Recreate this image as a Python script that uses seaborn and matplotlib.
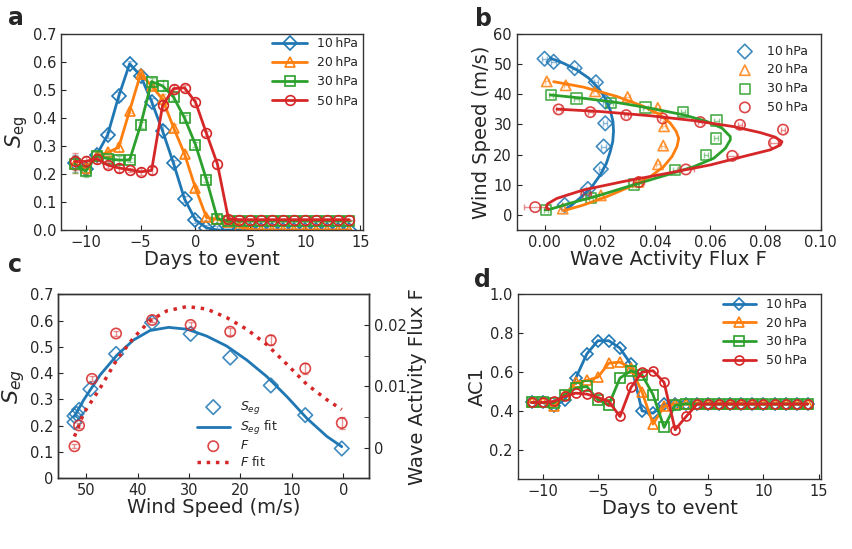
import numpy as np
import pandas as pd
import matplotlib
matplotlib.use("Agg")
import matplotlib.pyplot as plt
import seaborn as sns
from matplotlib.ticker import FixedLocator, FuncFormatter

# ---- data ----
levels = ["10\u2009hPa", "20\u2009hPa", "30\u2009hPa", "50\u2009hPa"]
colors = ["#1f77b4", "#ff7f0e", "#2ca02c", "#d62728"]
marks = ["D", "^", "s", "o"]

days = list(range(-11, 15))

# panel a : S_eg vs days
seg_10 = [0.238, 0.217, 0.268, 0.340, 0.477, 0.594, 0.551, 0.459, 0.354, 0.238, 0.111, 0.036, 0.008,
          0.0, 0.0, 0.0, 0.0, 0.0, 0.0, 0.0, 0.0, 0.0, 0.0, 0.0, 0.0, 0.0]
seg_20 = [0.235, 0.220, 0.265, 0.277, 0.295, 0.426, 0.558, 0.515, 0.467, 0.366, 0.272, 0.149, 0.045,
          0.038, 0.030, 0.012, 0.002, 0.0, 0.0, 0.0, 0.0, 0.0, 0.0, 0.0, 0.0, 0.0]
seg_30 = [0.235, 0.210, 0.265, 0.255, 0.250, 0.250, 0.375, 0.530, 0.515, 0.475, 0.400, 0.305, 0.180,
          0.040, 0.033, 0.032, 0.032, 0.032, 0.032, 0.032, 0.032, 0.032, 0.032, 0.032, 0.032, 0.032]
seg_50 = [0.245, 0.245, 0.255, 0.232, 0.222, 0.215, 0.208, 0.213, 0.445, 0.505, 0.508, 0.457, 0.345,
          0.235, 0.040, 0.037, 0.037, 0.037, 0.037, 0.037, 0.037, 0.037, 0.037, 0.037, 0.037, 0.037]
seg_err = [0.03, 0.02, 0.015, 0.01, 0.015, 0.008, 0.012, 0.012, 0.02, 0.012, 0.01, 0.01, 0.01,
           0.015, 0.005, 0.003, 0.0, 0.0, 0.0, 0.0, 0.0, 0.0, 0.0, 0.0, 0.0, 0.0]
seg_all = [seg_10, seg_20, seg_30, seg_50]

# panel b : wind speed vs wave activity flux
b_flux_10 = [0.000, 0.0033, 0.0109, 0.0186, 0.022, 0.022, 0.0214, 0.0204, 0.0157, 0.0073]
b_wind_10 = [51.8, 50.8, 48.7, 44.0, 37.6, 30.4, 22.7, 15.2, 8.6, 3.3]
b_flux_20 = [0.0008, 0.0077, 0.0183, 0.0301, 0.041, 0.0433, 0.043, 0.0411, 0.034, 0.0204, 0.0066]
b_wind_20 = [44.3, 43.0, 41.0, 39.1, 35.5, 29.4, 23.0, 16.8, 11.0, 6.5, 2.1]
b_flux_30 = [0.0023, 0.0116, 0.024, 0.0366, 0.0502, 0.0623, 0.0622, 0.0584, 0.0472, 0.0325, 0.0169, 0.0005]
b_wind_30 = [39.7, 38.6, 37.2, 35.6, 34.1, 31.3, 25.4, 19.8, 14.9, 10.1, 5.7, 1.7]
b_flux_50 = [0.0051, 0.0166, 0.0296, 0.0428, 0.0564, 0.0708, 0.0864, 0.0831, 0.068, 0.0512, 0.0342,
             0.0151, -0.0034]
b_wind_50 = [35.0, 34.1, 33.1, 32.0, 30.8, 29.9, 28.3, 23.9, 19.6, 15.1, 10.9, 6.8, 2.6]
b_xerr_50 = [0.0008, 0.0008, 0.0008, 0.0008, 0.0008, 0.0008, 0.0008, 0.0015, 0.002, 0.003, 0.002, 0.001, 0.004]
b_flux = [b_flux_10, b_flux_20, b_flux_30, b_flux_50]
b_wind = [b_wind_10, b_wind_20, b_wind_30, b_wind_50]

# fitted curves
fit_flux_10 = [0.0021, 0.0069, 0.0117, 0.016, 0.0196, 0.022, 0.0238, 0.0248, 0.025, 0.0247, 0.0238,
               0.0224, 0.0202, 0.0172, 0.0135, 0.0099, 0.0081]
fit_wind_10 = [52.0, 50.3, 48.1, 45.4, 42.0, 38.7, 34.8, 31.0, 27.7, 24.3, 21.0, 17.1, 13.3, 9.4, 6.1, 3.3, 2.2]
fit_flux_20 = [0.0033, 0.0141, 0.0262, 0.0359, 0.0419, 0.0456, 0.0477, 0.0486, 0.048, 0.0462, 0.0431,
               0.0383, 0.0311, 0.0226, 0.0141, 0.0069]
fit_wind_20 = [44.2, 42.4, 39.3, 36.0, 33.2, 30.4, 27.7, 25.4, 22.7, 19.4, 16.0, 12.7, 9.4, 6.1, 3.3, 1.4]
fit_flux_30 = [0.0021, 0.0141, 0.0262, 0.0383, 0.0504, 0.0588, 0.0643, 0.0673, 0.0673, 0.0655, 0.0613,
               0.054, 0.0444, 0.0323, 0.0202, 0.0093, 0.0021, 0.0002]
fit_wind_30 = [39.8, 38.7, 37.3, 35.4, 33.2, 31.0, 28.8, 26.0, 24.9, 22.1, 18.8, 16.0, 13.3, 10.0, 6.6,
               3.9, 1.9, 1.7]
fit_flux_50 = [0.0045, 0.0202, 0.0383, 0.054, 0.0685, 0.0782, 0.0836, 0.086, 0.0854, 0.0818, 0.0721,
               0.0601, 0.0444, 0.0286, 0.0141, 0.0045, 0.0011, 0.0006, 0.0015]
fit_wind_50 = [35.1, 34.3, 32.9, 31.3, 29.3, 27.3, 25.8, 24.3, 23.2, 21.6, 19.4, 16.6, 13.8, 11.1, 8.3,
               5.5, 3.7, 2.5, 1.9]
fit_flux = [fit_flux_10, fit_flux_20, fit_flux_30, fit_flux_50]
fit_wind = [fit_wind_10, fit_wind_20, fit_wind_30, fit_wind_50]

# panel c : S_eg and F vs wind speed
c_wind = [52.3, 52.3, 51.9, 51.4, 49.2, 44.2, 37.2, 29.7, 22.0, 14.1, 7.4, 0.3]
c_seg = [0.237, 0.213, 0.245, 0.260, 0.339, 0.473, 0.592, 0.549, 0.459, 0.353, 0.240, 0.113]
c_f_wind = [52.3, 51.4, 48.9, 44.2, 37.2, 29.7, 22.0, 14.1, 7.4, 0.3]
c_f = [0.0002, 0.0036, 0.0112, 0.0186, 0.0208, 0.0200, 0.0189, 0.0175, 0.0129, 0.0040]
c_f_err = [0.0003, 0.0004, 0.0004, 0.0004, 0.0004, 0.0004, 0.0006, 0.0008, 0.0009, 0.0009]
c_segfit_wind = [52.3, 50.5, 47.3, 44.0, 40.8, 37.6, 34.0, 30.4, 26.6, 22.7, 18.8, 14.9, 11.0, 7.1, 3.2, 0.3]
c_segfit = [0.235, 0.298, 0.393, 0.469, 0.526, 0.562, 0.574, 0.567, 0.541, 0.503, 0.450, 0.387, 0.311,
            0.228, 0.159, 0.120]
c_ffit_wind = [52.3, 50.5, 47.3, 44.0, 40.8, 37.6, 34.3, 30.4, 26.6, 22.7, 18.8, 14.9, 11.0, 7.1, 3.2, 0.3]
c_ffit = [0.0018, 0.0056, 0.0097, 0.0144, 0.0179, 0.0207, 0.0223, 0.0230, 0.0226, 0.0212, 0.0193,
          0.0168, 0.0136, 0.0103, 0.0078, 0.0062]

# panel d : AC1 vs days
ac1_10 = [0.443, 0.443, 0.423, 0.457, 0.568, 0.692, 0.760, 0.760, 0.722, 0.640, 0.400, 0.388, 0.436,
          0.436, 0.435, 0.435, 0.435, 0.435, 0.435, 0.435, 0.435, 0.435, 0.435, 0.435, 0.435, 0.435]
ac1_20 = [0.443, 0.443, 0.426, 0.480, 0.546, 0.556, 0.573, 0.645, 0.650, 0.620, 0.497, 0.332, 0.423,
          0.435, 0.435, 0.435, 0.435, 0.435, 0.435, 0.435, 0.435, 0.435, 0.435, 0.435, 0.435, 0.435]
ac1_30 = [0.443, 0.443, 0.440, 0.483, 0.517, 0.525, 0.457, 0.431, 0.568, 0.606, 0.585, 0.483, 0.315,
          0.428, 0.436, 0.435, 0.435, 0.435, 0.435, 0.435, 0.435, 0.435, 0.435, 0.435, 0.435, 0.435]
ac1_50 = [0.443, 0.443, 0.448, 0.474, 0.491, 0.486, 0.469, 0.448, 0.371, 0.520, 0.599, 0.606, 0.546,
          0.303, 0.371, 0.435, 0.435, 0.435, 0.435, 0.435, 0.435, 0.435, 0.435, 0.435, 0.435, 0.435]
ac1_all = [ac1_10, ac1_20, ac1_30, ac1_50]


def main():
    sns.set_style("ticks")
    plt.rcParams["font.family"] = ["DejaVu Sans"]
    plt.rcParams["xtick.direction"] = "in"
    plt.rcParams["ytick.direction"] = "in"
    plt.rcParams["xtick.labelsize"] = 10.5
    plt.rcParams["ytick.labelsize"] = 10.5
    plt.rcParams["axes.labelsize"] = 14
    plt.rcParams["axes.linewidth"] = 1.0
    plt.rcParams["axes.edgecolor"] = "#333333"

    fig = plt.figure(figsize=(8.53, 5.49), dpi=100)
    ax_a = fig.add_axes([0.0715, 0.581, 0.354, 0.357])
    ax_b = fig.add_axes([0.606, 0.581, 0.356, 0.357])
    ax_c = fig.add_axes([0.068, 0.129, 0.3646, 0.335])
    ax_d = fig.add_axes([0.607, 0.1275, 0.356, 0.337])

    leg_kw = dict(frameon=False, fontsize=9, borderpad=0, borderaxespad=0)

    # ---- a ----
    for vals, c, m, lab in zip(seg_all, colors, marks, levels):
        ax_a.errorbar(days, vals, yerr=seg_err, fmt="none", ecolor=c, alpha=0.45, capsize=2, lw=1)
        sns.lineplot(x=days, y=vals, ax=ax_a, color=c, marker=m, ms=7, mfc="none", mec=c, mew=1.2,
                     lw=2, label=lab)
    ax_a.set_ylim(0, 0.7)
    ax_a.set_yticks(np.arange(0, 0.71, 0.1))
    ax_a.yaxis.set_major_formatter(FuncFormatter(lambda v, p: f"{v:.1f}"))
    ax_a.set_xticks([-10, -5, 0, 5, 10, 15])
    ax_a.set_xlabel("Days to event", labelpad=0)
    ax_a.set_ylabel(r"$S_{\mathrm{eg}}$", fontsize=15, labelpad=2)
    ax_a.legend(loc="upper right", bbox_to_anchor=(0.985, 0.985), handlelength=2.8,
                labelspacing=0.5, **leg_kw)

    # ---- b ----
    for i, (fx, wy, c, m, lab) in enumerate(zip(b_flux, b_wind, colors, marks, levels)):
        xerr = b_xerr_50 if i == 3 else 0.0008
        ax_b.errorbar(fx, wy, xerr=xerr, fmt="none", ecolor=c, alpha=0.5, capsize=2, lw=1)
        sns.scatterplot(x=fx, y=wy, ax=ax_b, marker=m, s=55, facecolors="none", edgecolor=c,
                        linewidth=1.2, alpha=0.85, label=lab)
        sns.lineplot(x=fit_flux[i], y=fit_wind[i], ax=ax_b, color=c, lw=2, sort=False,
                     estimator=None)
    ax_b.set_xlim(-0.01, 0.10)
    ax_b.set_ylim(-5, 60)
    ax_b.set_yticks(np.arange(0, 61, 10))
    ax_b.set_xticks([0.0, 0.02, 0.04, 0.06, 0.08, 0.10])
    ax_b.xaxis.set_major_formatter(FuncFormatter(lambda v, p: f"{v:.2f}"))
    ax_b.set_xlabel("Wave Activity Flux F", labelpad=0)
    ax_b.set_ylabel("Wind Speed (m/s)", labelpad=2)
    hb, lb = ax_b.get_legend_handles_labels()
    ax_b.legend(hb[:4], lb[:4], loc="upper right", bbox_to_anchor=(0.96, 0.945),
                labelspacing=0.45, **leg_kw)

    # ---- c ----
    ax_c2 = ax_c.twinx()
    sns.scatterplot(x=c_wind, y=c_seg, ax=ax_c, marker="D", s=55, facecolors="none",
                    edgecolor=colors[0], linewidth=1.2, alpha=0.85, label=r"$S_{eg}$")
    sns.lineplot(x=c_segfit_wind, y=c_segfit, ax=ax_c, color=colors[0], lw=2, sort=False,
                 estimator=None, label=r"$S_{eg}$ fit")
    ax_c2.errorbar(c_f_wind, c_f, yerr=c_f_err, fmt="none", ecolor=colors[3], alpha=0.5,
                   capsize=2, lw=1)
    sns.scatterplot(x=c_f_wind, y=c_f, ax=ax_c2, marker="o", s=55, facecolors="none",
                    edgecolor=colors[3], linewidth=1.2, alpha=0.85, label=r"$F$")
    sns.lineplot(x=c_ffit_wind, y=c_ffit, ax=ax_c2, color=colors[3], lw=2.5, ls=":",
                 sort=False, estimator=None, label=r"$F$ fit")
    ax_c.set_xlim(55.5, -5)
    ax_c.set_ylim(0, 0.7)
    ax_c.set_xticks([50, 40, 30, 20, 10, 0])
    ax_c.set_yticks(np.arange(0, 0.71, 0.1))
    ax_c.yaxis.set_major_formatter(FuncFormatter(lambda v, p: "0" if abs(v) < 1e-9 else f"{v:.1f}"))
    ax_c.set_xlabel("Wind Speed (m/s)", labelpad=0)
    ax_c.set_ylabel(r"$S_{eg}$", fontsize=16, labelpad=2)
    ax_c2.set_ylim(-0.005, 0.025)
    ax_c2.yaxis.set_major_locator(FixedLocator([0, 0.01, 0.02]))
    ax_c2.yaxis.set_minor_locator(FixedLocator([0.005, 0.015]))
    ax_c2.yaxis.set_major_formatter(FuncFormatter(lambda v, p: "0" if abs(v) < 1e-9 else f"{v:.2f}"))
    ax_c2.tick_params(axis="y", which="minor", direction="in", length=3.5)
    ax_c2.set_ylabel("Wave Activity Flux F", labelpad=1)
    h_a, l_a = ax_c.get_legend_handles_labels()
    h_b, l_b = ax_c2.get_legend_handles_labels()
    if ax_c.get_legend():
        ax_c.get_legend().remove()
    ax_c2.legend(h_a + h_b, l_a + l_b, loc="lower left", bbox_to_anchor=(0.447, 0.05),
                 handlelength=2.6, labelspacing=0.2, **leg_kw)

    # ---- d ----
    for vals, c, m, lab in zip(ac1_all, colors, marks, levels):
        sns.lineplot(x=days, y=vals, ax=ax_d, color=c, marker=m, ms=6.5, mfc="none", mec=c, mew=1.2,
                     lw=2, label=lab)
    ax_d.set_ylim(0.05, 1.0)
    ax_d.set_yticks([0.2, 0.4, 0.6, 0.8, 1.0])
    ax_d.set_xticks([-10, -5, 0, 5, 10, 15])
    ax_d.set_xlabel("Days to event", labelpad=0)
    ax_d.set_ylabel("AC1", labelpad=2)
    ax_d.legend(loc="upper right", bbox_to_anchor=(0.954, 0.978), handlelength=2.7,
                labelspacing=0.45, **leg_kw)

    for lab, x, y in [("a", 0.0094, 0.954), ("b", 0.557, 0.953), ("c", 0.0094, 0.505), ("d", 0.556, 0.477)]:
        fig.text(x, y, lab, fontsize=17, fontweight="bold", va="baseline", ha="left")

    plt.savefig("out.png", dpi=100)
    plt.close()


if __name__ == "__main__":
    main()
